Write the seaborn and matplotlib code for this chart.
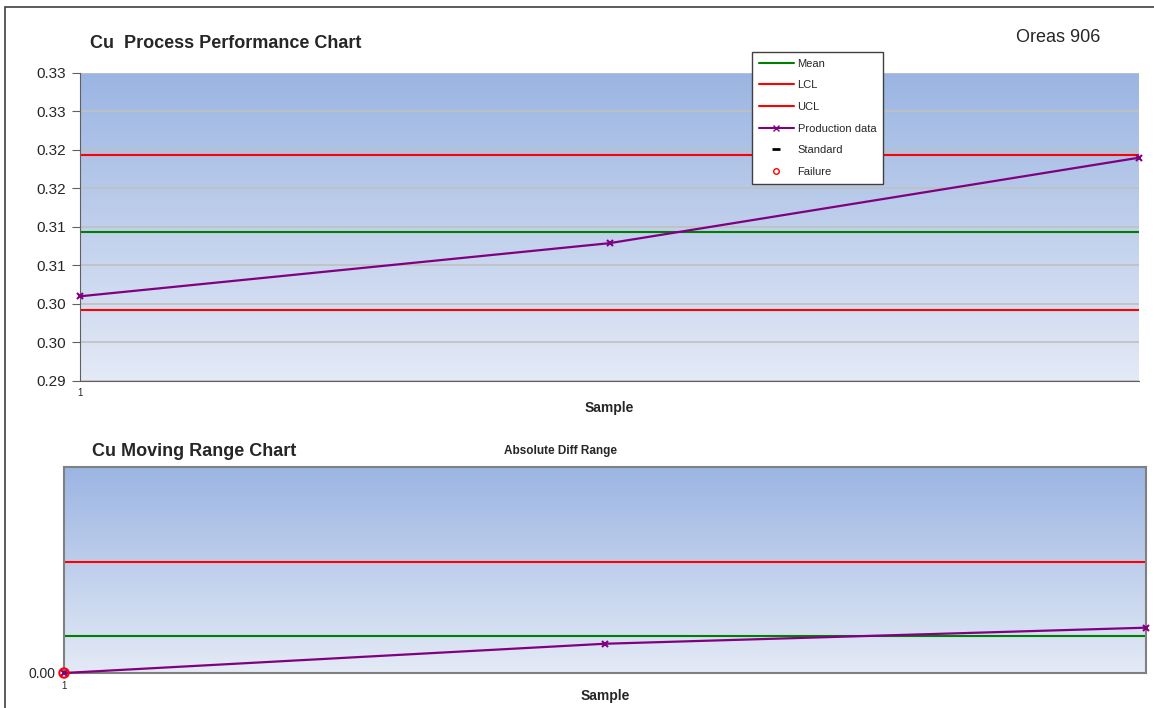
import numpy as np
import pandas as pd
import seaborn as sns
import matplotlib.pyplot as plt
from matplotlib.lines import Line2D
from matplotlib.patches import Rectangle

# data
samples = [1, 2, 3]
production = [0.3010, 0.3079, 0.3190]
mean_val = 0.3094
lcl_val = 0.2992
ucl_val = 0.3194
y_ticks = [0.29, 0.295, 0.30, 0.305, 0.31, 0.315, 0.32, 0.325, 0.33]
y_tick_labels = ['0.29', '0.30', '0.30', '0.31', '0.31', '0.32', '0.32', '0.33', '0.33']

mr_values = [0.0, 0.0071, 0.0110]
mr_mean = 0.0090
mr_ucl = 0.0269
failure_x = [1]
failure_y = [0.0]

sns.set_style("white")
plt.rcParams['font.family'] = ['Liberation Sans', 'DejaVu Sans']

purple = '#800080'
green = '#008000'
red = '#ff0000'


def gradient_bg(ax):
    grad = np.linspace(0, 1, 256).reshape(-1, 1)
    cmap = sns.blend_palette(['#e4eaf6', '#9bb5e2'], as_cmap=True)
    ax.imshow(grad, extent=[0, 1, 0, 1], transform=ax.transAxes, cmap=cmap,
              aspect='auto', origin='lower', zorder=0)


fig = plt.figure(figsize=(11.54, 7.08), dpi=100)
fig.patches.append(Rectangle((5 / 1154, -0.1), 1.2, 1 - 7 / 708 + 0.1, transform=fig.transFigure,
                             fill=False, edgecolor='#404040', linewidth=1.2))

# ---- top chart
ax1 = fig.add_axes([80 / 1154, 1 - 381 / 708, 1059 / 1154, 308 / 708])
gradient_bg(ax1)
df = pd.DataFrame({'Sample': samples, 'Value': production})
for yt in y_ticks:
    ax1.axhline(yt, color='#c0c0c0', lw=1.2, zorder=1)
ax1.axhline(mean_val, color=green, lw=1.5, zorder=2)
ax1.axhline(lcl_val, color=red, lw=1.5, zorder=2)
ax1.axhline(ucl_val, color=red, lw=1.5, zorder=2)
sns.lineplot(data=df, x='Sample', y='Value', ax=ax1, color=purple, lw=1.6,
             marker='x', markersize=5, markeredgewidth=1.5, markeredgecolor=purple, zorder=3,
             clip_on=False)
ax1.set_xlim(1, 3)
ax1.set_ylim(0.29, 0.33)
ax1.set_yticks(y_ticks)
ax1.set_yticklabels(y_tick_labels, fontsize=11)
ax1.set_xticks([1])
ax1.set_xticklabels(['1'], fontsize=7)
ax1.tick_params(axis='y', length=6, color='#606060', pad=4, left=True)
ax1.tick_params(axis='x', length=0, pad=5)
for s in ['top', 'right']:
    ax1.spines[s].set_visible(False)
for s in ['left', 'bottom']:
    ax1.spines[s].set_color('#606060')
ax1.set_xlabel('Sample', fontsize=10, fontweight='bold', labelpad=2)
ax1.set_ylabel('')

# ---- bottom chart
ax2 = fig.add_axes([64 / 1154, 1 - 673 / 708, 1082 / 1154, 206 / 708])
gradient_bg(ax2)
df2 = pd.DataFrame({'Sample': samples, 'Range': mr_values})
ax2.axhline(mr_mean, color=green, lw=1.5, zorder=2)
ax2.axhline(mr_ucl, color=red, lw=1.5, zorder=2)
sns.lineplot(data=df2, x='Sample', y='Range', ax=ax2, color=purple, lw=1.6,
             marker='x', markersize=5, markeredgewidth=1.5, markeredgecolor=purple, zorder=3,
             clip_on=False)
ax2.scatter(failure_x, failure_y, s=45, facecolors='none', edgecolors=red, linewidths=1.5,
            zorder=4, clip_on=False)
ax2.set_xlim(1, 3)
ax2.set_ylim(0, 0.05)
ax2.set_yticks([0])
ax2.set_yticklabels(['0.00'], fontsize=10)
ax2.set_xticks([1])
ax2.set_xticklabels(['1'], fontsize=7)
ax2.tick_params(axis='both', length=0, pad=6)
for s in ax2.spines.values():
    s.set_color('#808080')
    s.set_linewidth(1.5)
ax2.set_xlabel('Sample', fontsize=10, fontweight='bold', labelpad=-2)
ax2.set_ylabel('')

# ---- texts
fig.text(90 / 1154, 1 - 43 / 708, 'Cu  Process Performance Chart', fontsize=13, fontweight='bold', va='center')
fig.text(1016 / 1154, 1 - 38 / 708, 'Oreas 906', fontsize=13, va='center')
fig.text(92 / 1154, 1 - 451 / 708, 'Cu Moving Range Chart', fontsize=13, fontweight='bold', va='center')
fig.text(560 / 1154, 1 - 451 / 708, 'Absolute Diff Range', fontsize=8.5, fontweight='bold', va='center', ha='center')

# ---- legend
handles = [
    Line2D([], [], color=green, lw=1.5),
    Line2D([], [], color=red, lw=1.5),
    Line2D([], [], color=red, lw=1.5),
    Line2D([], [], color=purple, lw=1.5, marker='x', markersize=4),
    Line2D([], [], color='black', lw=0, marker='_', markersize=6, markeredgewidth=2),
    Line2D([], [], color=red, lw=0, marker='o', markersize=4, markerfacecolor='none'),
]
labels = ['Mean', 'LCL', 'UCL', 'Production data', 'Standard', 'Failure']
leg = fig.legend(handles, labels, loc='upper left', bbox_to_anchor=(752 / 1154, 1 - 52 / 708),
                 fontsize=8, frameon=True, fancybox=False, handlelength=3.2, handletextpad=0.3,
                 labelspacing=1.05, borderpad=0.6, borderaxespad=0)
leg.get_frame().set_edgecolor('#404040')
leg.get_frame().set_linewidth(1)
leg.get_frame().set_alpha(1)
leg.set_zorder(10)

fig.savefig('out.png', dpi=100)
